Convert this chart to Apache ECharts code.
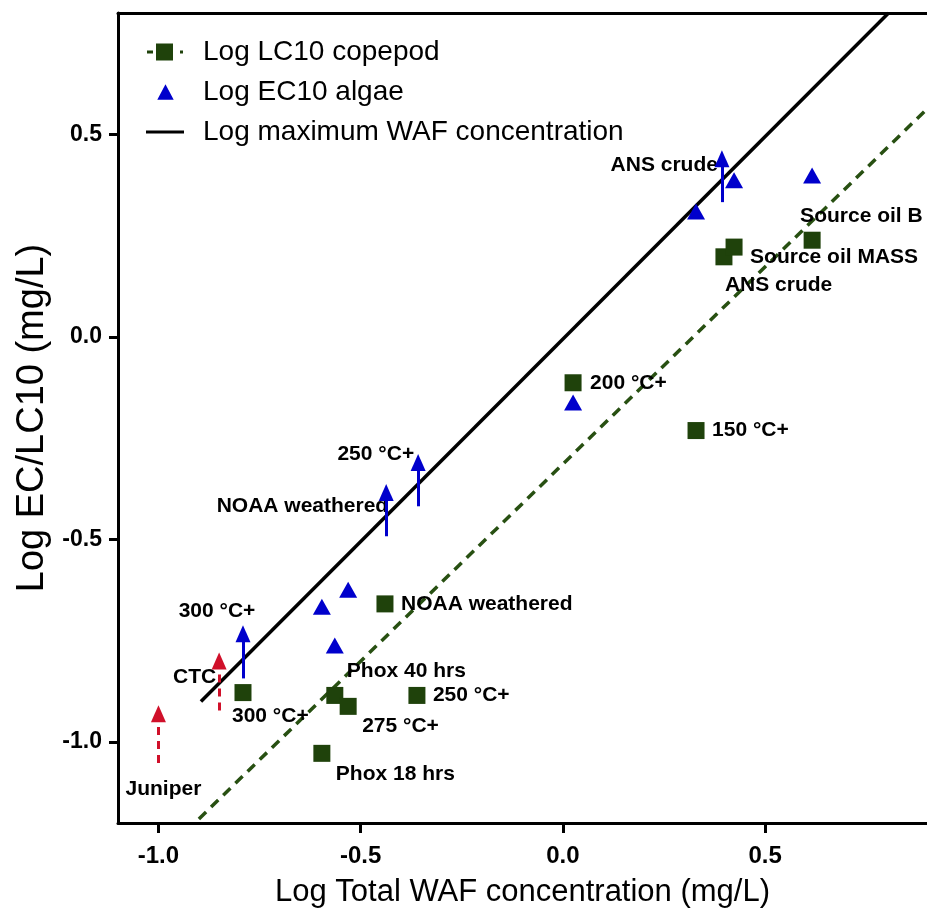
<!DOCTYPE html>
<html>
<head>
<meta charset="utf-8">
<script src="https://cdn.jsdelivr.net/npm/echarts@6/dist/echarts.min.js"></script>
<style>
  html, body { margin: 0; padding: 0; background: #fff; }
  #chart { width: 927px; height: 913px; }
</style>
</head>
<body>
<div id="chart"></div>
<script>
// Log LC10 copepod points
const copepodX = [0.398, 0.423, 0.616, 0.025, 0.329, -0.440, -0.791, -0.564, -0.531, -0.361, -0.596];
const copepodY = [0.198, 0.222, 0.239, -0.113, -0.231, -0.659, -0.878, -0.885, -0.912, -0.885, -1.028];
const copepodNames = ['ANS crude', 'Source oil MASS', 'Source oil B', '200 °C+', '150 °C+',
  'NOAA weathered', '300 °C+', 'Phox 40 hrs', '275 °C+', '250 °C+', 'Phox 18 hrs'];

// Log EC10 algae points
const algaeX = [0.329, 0.423, 0.616, 0.025, -0.596, -0.531, -0.564];
const algaeY = [0.310, 0.387, 0.399, -0.162, -0.666, -0.624, -0.762];

// "greater than" arrows: x, start, arrow head
const algaeArrowNames = ['ANS crude', '250 °C+', 'NOAA weathered', '300 °C+'];
const algaeArrowX = [0.393, -0.358, -0.437, -0.791];
const algaeArrowFrom = [0.333, -0.418, -0.492, -0.843];
const algaeArrowTo = [0.44, -0.31, -0.384, -0.733];

const copepodArrowNames = ['CTC', 'Juniper'];
const copepodArrowX = [-0.850, -1.0];
const copepodArrowFrom = [-0.922, -1.052];
const copepodArrowTo = [-0.80, -0.93];

// lines
const maxWafX = [-0.895, 0.805];
const maxWafY = [-0.9, 0.8];
const fitX = [-0.9, 0.9];
const fitY = [-1.19, 0.563];

const tickValues = [-1, -0.5, 0, 0.5];

const GREEN = '#1f420b';
const BLUE = '#0000cc';
const RED = '#d0102a';
const FONT = 'Liberation Sans, Arial, sans-serif';

// label placement (px offset from the mark centre)
const copepodLabelPos = [[1, 28], [16, 10], [-12, -24], [17, 0], [16, 0], [16, 0],
  [-11, 24], [12, -24], [14, 20], [16, 0], [14, 21]];
const algaeArrowLabelPos = [[-4, 6, 'right'], [-4, -8, 'right'], [2, 14, 'right'], [-26, -23, 'center']];
const copepodArrowLabelPos = [[-3, 16, 'right'], [5, 76, 'center']];

const boldLabel = {
  fontFamily: FONT, fontWeight: 'bold', fontSize: 21, color: '#000',
  textBorderWidth: 0, opacity: 1
};

function pointLabel(name, pos, align) {
  return Object.assign({
    show: true,
    position: 'inside',
    align: align || 'left',
    verticalAlign: 'middle',
    offset: [pos[0], pos[1]],
    formatter: name
  }, boldLabel);
}

function arrowSeries(xs, from, to, names, places, color, dashed) {
  return {
    type: 'scatter',
    symbol: 'circle',
    symbolSize: 0.1,
    itemStyle: { color: 'rgba(0,0,0,0)', opacity: 1 },
    silent: true,
    z: 4,
    data: xs.map((x, i) => ({
      value: [x, to[i]],
      label: pointLabel(names[i], places[i], places[i][2])
    })),
    markLine: {
      silent: true,
      animation: false,
      symbol: ['none', 'triangle'],
      symbolSize: [15, 17],
      label: { show: false },
      lineStyle: { color: color, width: 3, opacity: 1, type: dashed ? [8, 6] : 'solid' },
      emphasis: { disabled: true },
      data: xs.map((x, i) => [{ coord: [x, from[i]] }, { coord: [x, to[i]] }])
    }
  };
}

const chart = echarts.init(document.getElementById('chart'));

chart.setOption({
  animation: false,
  backgroundColor: '#fff',
  grid: { left: 118, right: 0, top: 13, bottom: 88 },
  legend: {
    orient: 'vertical',
    left: 141,
    top: 32,
    itemWidth: 38,
    itemHeight: 17,
    itemGap: 10,
    selectedMode: false,
    textStyle: { fontFamily: FONT, fontSize: 28, color: '#000', lineHeight: 30, padding: [0, 0, 0, 14] },
    data: [
      { name: 'Log LC10 copepod', icon: 'path://M1,7h6v3h-6z M10,0h17v17h-17z M34,7h3v3h-3z' },
      { name: 'Log EC10 algae', icon: 'path://M0,8h0.05v0.05h-0.05z M11,16L19,1L27,16z M37,8h0.05v0.05h-0.05z' },
      { name: 'Log maximum WAF concentration', icon: 'path://M0,0h37v3h-37z' }
    ]
  },
  xAxis: [{
    type: 'value',
    min: -1.1,
    max: 0.9,
    name: 'Log Total WAF concentration (mg/L)',
    nameLocation: 'middle',
    nameGap: 54,
    nameTextStyle: { fontFamily: FONT, fontSize: 31, color: '#000' },
    axisLine: { onZero: false, lineStyle: { color: '#000', width: 3 } },
    axisTick: { show: true, customValues: tickValues, length: 10, lineStyle: { color: '#000', width: 3 } },
    axisLabel: {
      customValues: tickValues, margin: 21,
      fontFamily: FONT, fontWeight: 'bold', fontSize: 24, color: '#000',
      formatter: v => v.toFixed(1)
    },
    splitLine: { show: false }
  }, {
    type: 'value',
    position: 'top',
    min: -1.1,
    max: 0.9,
    axisLine: { onZero: false, lineStyle: { color: '#000', width: 3 } },
    axisTick: { show: false },
    axisLabel: { show: false },
    splitLine: { show: false }
  }],
  yAxis: {
    type: 'value',
    min: -1.2,
    max: 0.8,
    name: 'Log EC/LC10 (mg/L)',
    nameLocation: 'middle',
    nameGap: 66,
    nameTextStyle: { fontFamily: FONT, fontSize: 38, color: '#000' },
    axisLine: { show: true, onZero: false, lineStyle: { color: '#000', width: 3 } },
    axisTick: { show: true, customValues: tickValues, length: 9, lineStyle: { color: '#000', width: 3 } },
    axisLabel: {
      customValues: tickValues, margin: 16,
      fontFamily: FONT, fontWeight: 'bold', fontSize: 23, color: '#000',
      formatter: v => v.toFixed(1)
    },
    splitLine: { show: false }
  },
  series: [
    {
      name: 'copepod fit',
      type: 'line',
      showSymbol: false,
      silent: true,
      data: fitX.map((x, i) => [x, fitY[i]]),
      lineStyle: { color: '#285012', width: 3.5, type: [10, 7] },
      z: 1
    },
    {
      name: 'Log maximum WAF concentration',
      type: 'line',
      showSymbol: false,
      silent: true,
      color: '#000',
      data: maxWafX.map((x, i) => [x, maxWafY[i]]),
      lineStyle: { color: '#000', width: 3.5 },
      z: 2
    },
    arrowSeries(algaeArrowX, algaeArrowFrom, algaeArrowTo, algaeArrowNames, algaeArrowLabelPos, BLUE, false),
    arrowSeries(copepodArrowX, copepodArrowFrom, copepodArrowTo, copepodArrowNames, copepodArrowLabelPos, RED, true),
    {
      name: 'Log EC10 algae',
      type: 'scatter',
      symbol: 'triangle',
      symbolSize: [18, 16],
      color: BLUE,
      itemStyle: { color: BLUE, opacity: 1 },
      z: 5,
      data: algaeX.map((x, i) => [x, algaeY[i]])
    },
    {
      name: 'Log LC10 copepod',
      type: 'scatter',
      symbol: 'rect',
      symbolSize: 17,
      color: GREEN,
      itemStyle: { color: GREEN, opacity: 1 },
      z: 5,
      data: copepodX.map((x, i) => ({
        value: [x, copepodY[i]],
        label: pointLabel(copepodNames[i], copepodLabelPos[i])
      }))
    }
  ]
});
</script>
</body>
</html>
